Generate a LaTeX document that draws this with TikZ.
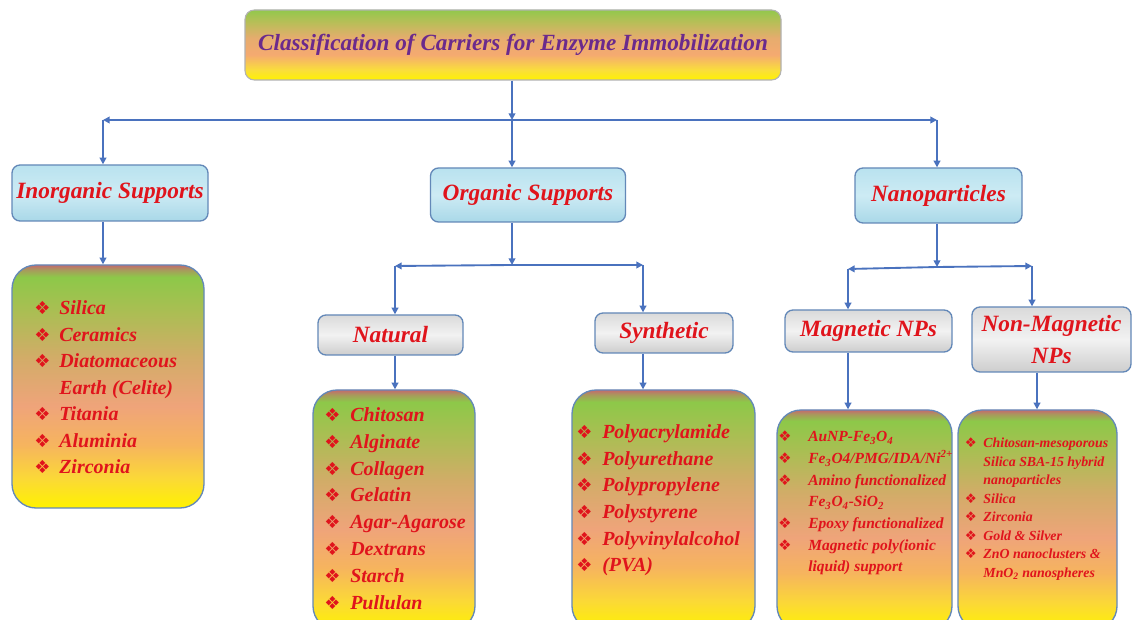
\documentclass[tikz,border=0pt]{standalone}
\usepackage{fontspec}
\setmainfont{Liberation Serif}
\newfontfamily\dv{DejaVu Sans}
\usetikzlibrary{arrows.meta}
\definecolor{txtred}{HTML}{E0141C}
\definecolor{titlepurple}{HTML}{6B2A8C}
\definecolor{connblue}{HTML}{4A72BE}
\definecolor{boxblue}{HTML}{6388B8}
\definecolor{ty}{HTML}{FFF200}
\definecolor{ty2}{HTML}{FADF3A}
\definecolor{tsal}{HTML}{F5AA70}
\definecolor{tsal2}{HTML}{E6AC6E}
\definecolor{tol}{HTML}{B9BE58}
\definecolor{tgr}{HTML}{92C84C}
\definecolor{ly2}{HTML}{FBD936}
\definecolor{lor}{HTML}{F6B45E}
\definecolor{lsal}{HTML}{EFA47A}
\definecolor{ltan}{HTML}{D2AC68}
\definecolor{lol}{HTML}{A8BF52}
\definecolor{lgr}{HTML}{8DC849}
\definecolor{lrd2}{HTML}{A89A5C}
\definecolor{lrd}{HTML}{C46A6E}
\definecolor{ice1}{HTML}{CDEBF4}
\definecolor{ice2}{HTML}{A9D8E8}
\definecolor{ice3}{HTML}{B9E2EF}
\definecolor{mar1}{HTML}{F2F2F2}
\definecolor{mar2}{HTML}{CDCDCD}
\definecolor{mar3}{HTML}{DADADA}
\pgfdeclareverticalshading{titleshade}{100bp}{color(0bp)=(ty); color(25bp)=(ty); color(32bp)=(ty2); color(43bp)=(tsal); color(55bp)=(tsal2); color(66bp)=(tol); color(75bp)=(tgr); color(100bp)=(tgr)}
\pgfdeclareverticalshading{listshade}{100bp}{color(0bp)=(ty); color(25bp)=(ty); color(31bp)=(ly2); color(38bp)=(lor); color(46bp)=(lsal); color(56bp)=(ltan); color(66bp)=(lol); color(72.5bp)=(lgr); color(74bp)=(lrd2); color(75bp)=(lrd); color(100bp)=(lrd)}
\pgfdeclareverticalshading{iceshade}{100bp}{color(0bp)=(ice2); color(25bp)=(ice2); color(50bp)=(ice1); color(75bp)=(ice3); color(100bp)=(ice3)}
\pgfdeclareverticalshading{marbleshade}{100bp}{color(0bp)=(mar2); color(25bp)=(mar2); color(50bp)=(mar1); color(75bp)=(mar3); color(100bp)=(mar3)}
\newlength\bw
\def\bsz{10}
\newcommand{\B}{\makebox[\bw][l]{\textcolor{txtred}{\dv\fontsize{\bsz}{\bsz}\selectfont ❖}}}
\tikzset{
  conn/.style={draw=connblue, line width=1.4pt},
  arr/.style={conn, -{Triangle[length=5pt,width=5pt]}},
  titlebox/.style={draw=gray!60, line width=0.8pt, rounded corners=7pt, shading=titleshade, text=titlepurple, inner sep=0pt, font=\fontsize{17.4}{21}\selectfont\bfseries\itshape},
  lvl/.style={draw=boxblue, line width=1pt, rounded corners=6pt, shading=iceshade, text=txtred, inner sep=0pt, align=center, font=\fontsize{17.5}{24}\selectfont\bfseries\itshape},
  sub/.style={lvl, shading=marbleshade},
  listbox/.style={draw=boxblue, line width=1pt, rounded corners=18pt, shading=listshade},
  lst/.style={text=txtred, inner sep=0pt, anchor=base west, font=\bfseries\itshape}
}
\begin{document}
\begin{tikzpicture}[x=0.75pt,y=-0.75pt]
\useasboundingbox (0,0) rectangle (1133,620);
\clip (0,0) rectangle (1133,620);
\fill[white] (0,0) rectangle (1133,620);

% title
\node[titlebox, minimum width=536*0.75pt, minimum height=70*0.75pt] (title) at (513,45) {Classification of Carriers for Enzyme Immobilization};

% level 1
\node[lvl, minimum width=196*0.75pt, minimum height=56*0.75pt] (inorg) at (110,193) {Inorganic Supports};
\node[lvl, minimum width=195*0.75pt, minimum height=54*0.75pt] (org) at (528,195) {Organic Supports};
\node[lvl, minimum width=167*0.75pt, minimum height=55*0.75pt] (nano) at (938.5,195.5) {Nanoparticles};

% level 2
\node[sub, minimum width=145*0.75pt, minimum height=40*0.75pt] (natural) at (390.5,335) {Natural};
\node[sub, minimum width=138*0.75pt, minimum height=40*0.75pt] (synthetic) at (664,333) {Synthetic};
\node[sub, minimum width=167*0.75pt, minimum height=42*0.75pt] (magnetic) at (868.5,331) {Magnetic NPs};
\node[sub, minimum width=159*0.75pt, minimum height=65*0.75pt] (nonmag) at (1051.5,339.5) {Non-Magnetic\\NPs};

% list boxes
\node[listbox, minimum width=192*0.75pt, minimum height=243*0.75pt] (inorgC) at (108,386.5) {};
\node[listbox, minimum width=162*0.75pt, minimum height=240*0.75pt] (natC) at (394,510) {};
\node[listbox, minimum width=183*0.75pt, minimum height=240*0.75pt] (synC) at (663.5,510) {};
\node[listbox, minimum width=175*0.75pt, minimum height=220*0.75pt] (magC) at (864.5,520) {};
\node[listbox, minimum width=159*0.75pt, minimum height=220*0.75pt] (nonmagC) at (1037.5,520) {};

% list texts
\node[lst] (inorgT) at (34,314.5) {\setlength\bw{18.75pt}\def\bsz{13.5}\fontsize{15}{19.9}\selectfont
\begin{tabular}[t]{@{}l@{}l@{}}
\B & Silica\\
\B & Ceramics\\
\B & Diatomaceous\\
 & Earth (Celite)\\
\B & Titania\\
\B & Aluminia\\
\B & Zirconia
\end{tabular}};

\node[lst] (natT) at (324,421.5) {\setlength\bw{19.5pt}\def\bsz{13.5}\fontsize{15}{20.1}\selectfont
\begin{tabular}[t]{@{}l@{}l@{}}
\B & Chitosan\\
\B & Alginate\\
\B & Collagen\\
\B & Gelatin\\
\B & Agar-Agarose\\
\B & Dextrans\\
\B & Starch\\
\B & Pullulan
\end{tabular}};

\node[lst] (synT) at (576,438.5) {\setlength\bw{19.5pt}\def\bsz{13.5}\fontsize{15}{20}\selectfont
\begin{tabular}[t]{@{}l@{}l@{}}
\B & Polyacrylamide\\
\B & Polyurethane\\
\B & Polypropylene\\
\B & Polystyrene\\
\B & Polyvinylalcohol\\
\B & (PVA)
\end{tabular}};

\node[lst] (magT) at (778,442) {\setlength\bw{22.5pt}\def\bsz{11}\fontsize{11.6}{16.25}\selectfont
\begin{tabular}[t]{@{}l@{}l@{}}
\B & AuNP-Fe\textsubscript{3}O\textsubscript{4}\\
\B & Fe\textsubscript{3}O4/PMG/IDA/Ni\textsuperscript{2+}\\
\B & Amino functionalized\\
 & Fe\textsubscript{3}O\textsubscript{4}-SiO\textsubscript{2}\\
\B & Epoxy functionalized\\
\B & Magnetic poly(ionic\\
 & liquid) support
\end{tabular}};

\node[lst] (nonmagT) at (964.5,447.5) {\setlength\bw{14pt}\def\bsz{10}\fontsize{10.4}{13.9}\selectfont
\begin{tabular}[t]{@{}l@{}l@{}}
\B & Chitosan-mesoporous\\
 & Silica SBA-15 hybrid\\
 & nanoparticles\\
\B & Silica\\
\B & Zirconia\\
\B & Gold \& Silver\\
\B & ZnO nanoclusters \&\\
 & MnO\textsubscript{2} nanospheres
\end{tabular}};

% connectors level 0 -> 1
\coordinate (hA) at (512,120);
\coordinate (hL) at (103,120);
\coordinate (hR) at (937,120);
\draw[arr] (title.south -| hA) -- (hA);
\draw[arr] (hA) -- (hL);
\draw[arr] (hA) -- (hR);
\draw[arr] (hL) -- (hL |- inorg.north);
\draw[arr] (hR) -- (hR |- nano.north);
\draw[arr] (hA) -- (hA |- org.north);

% inorganic
\draw[arr] (hL |- inorg.south) -- (hL |- inorgC.north);

% organic
\coordinate (oA) at (512,265);
\coordinate (oL) at (395,266);
\coordinate (oR) at (643,265);
\draw[arr] (hA |- org.south) -- (oA);
\draw[arr] (oA) -- (oL);
\draw[arr] (oA) -- (oR);
\draw[arr] (oL) -- (oL |- natural.north);
\draw[arr] (oR) -- (oR |- synthetic.north);
\draw[arr] (oL |- natural.south) -- (oL |- natC.north);
\draw[arr] (oR |- synthetic.south) -- (oR |- synC.north);

% nanoparticles
\coordinate (nA) at (937,267);
\coordinate (nL) at (848,269);
\coordinate (nR) at (1032,266);
\draw[arr] (hR |- nano.south) -- (nA);
\draw[arr] (nA) -- (nL);
\draw[arr] (nA) -- (nR);
\draw[arr] (nL) -- (nL |- magnetic.north);
\draw[arr] (nR) -- (nR |- nonmag.north);
\draw[arr] (nL |- magnetic.south) -- (nL |- magC.north);
\coordinate (nmX) at (1037,372);
\draw[arr] (nonmag.south -| nmX) -- (nmX |- nonmagC.north);
\end{tikzpicture}
\end{document}
